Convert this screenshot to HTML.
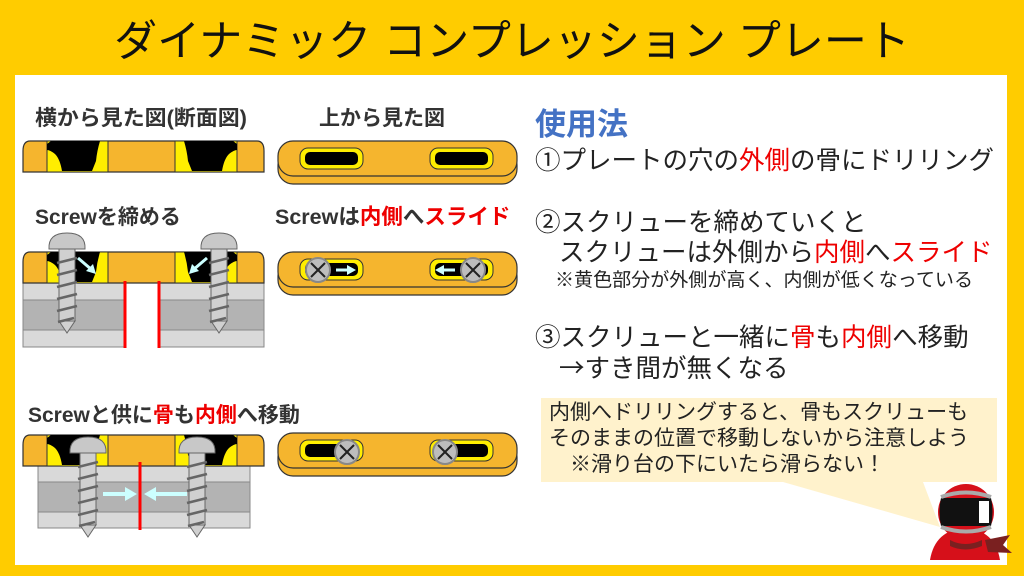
<!DOCTYPE html>
<html><head><meta charset="utf-8"><style>
html,body{margin:0;padding:0;width:1024px;height:576px;overflow:hidden;background:#FFCC00}
svg{display:block}
text{font-family:"Liberation Sans","Noto Sans CJK JP",sans-serif}
.cjk{font-family:"Noto Sans CJK JP",sans-serif}
</style></head><body>
<svg width="1024" height="576" viewBox="0 0 1024 576" xmlns="http://www.w3.org/2000/svg">
<defs>
<g id="screw">
  <rect x="-8" y="16" width="16" height="72" fill="#d0d0d0" stroke="#666" stroke-width="1"/>
  <polygon points="-8,88 8,88 0,100" fill="#d0d0d0" stroke="#666" stroke-width="1"/>
  <g stroke="#666" stroke-width="2.5">
    <line x1="-10" y1="30" x2="10" y2="25"/><line x1="-10" y1="42" x2="10" y2="37"/>
    <line x1="-10" y1="54" x2="10" y2="49"/><line x1="-10" y1="66" x2="10" y2="61"/>
    <line x1="-10" y1="78" x2="10" y2="73"/><line x1="-9" y1="89" x2="7" y2="85"/>
  </g>
  <path d="M-18,16 Q-19,0 0,0 Q19,0 18,16 Z" fill="#c8c8c8" stroke="#666" stroke-width="1"/>
</g>
<g id="head">
  <circle r="12" fill="#bdbdbd" stroke="#888" stroke-width="2"/>
  <line x1="-7" y1="-7" x2="7" y2="7" stroke="#222" stroke-width="2"/>
  <line x1="7" y1="-7" x2="-7" y2="7" stroke="#222" stroke-width="2"/>
</g>
<g id="topplate">
  <rect x="278" y="9" width="239" height="34" rx="15" fill="#F5B52E" stroke="#333" stroke-width="1.2"/>
  <rect x="278" y="0" width="239" height="35" rx="15" fill="#F5B52E" stroke="#333" stroke-width="1.2"/>
  <rect x="300" y="7" width="63" height="21" rx="8" fill="#FFEE00" stroke="#333"/>
  <rect x="305" y="11" width="53" height="13" rx="5" fill="#000"/>
  <rect x="430" y="7" width="63" height="21" rx="8" fill="#FFEE00" stroke="#333"/>
  <rect x="435" y="11" width="53" height="13" rx="5" fill="#000"/>
</g>
<g id="sideplate">
  <path d="M30,0 L257,0 Q264,0 264,10 L264,31 L23,31 L23,10 Q23,0 30,0 Z" fill="#F5B52E" stroke="#333" stroke-width="1.2"/>
  <rect x="47" y="0" width="61" height="31" fill="#FFEE00" stroke="#333"/>
  <rect x="175" y="0" width="62" height="31" fill="#FFEE00" stroke="#333"/>
  <path d="M51,0 L100,0 Q97,10 96,20 L92,30 L62,30 Q60,18 55,13 Q50,9 47,9 L47,3 Z" fill="#000"/>
  <path d="M233,0 L184,0 Q187,10 188,20 L192,30 L222,30 Q224,18 229,13 Q234,9 237,9 L237,3 Z" fill="#000"/>
</g>
</defs>

<rect x="15" y="75" width="992" height="490" fill="#fff"/>
<text x="512" y="56" font-size="43" text-anchor="middle" fill="#111">ダイナミック コンプレッション プレート</text>

<!-- row 1 -->
<text x="35" y="125" font-size="21" font-weight="bold" fill="#333" textLength="212" lengthAdjust="spacingAndGlyphs">横から見た図(断面図)</text>
<text x="319" y="125" font-size="21" font-weight="bold" fill="#333">上から見た図</text>
<use href="#sideplate" y="141"/>
<use href="#topplate" y="141"/>

<!-- row 2 -->
<text x="35" y="224" font-size="21" font-weight="bold" fill="#333">Screwを締める</text>
<text x="275" y="224" font-size="21.5" font-weight="bold" fill="#333">Screwは<tspan fill="#e00">内側</tspan>へ<tspan fill="#e00">スライド</tspan></text>
<g stroke="#888" stroke-width="1">
<rect x="23" y="283" width="102" height="17" fill="#d9d9d9"/><rect x="23" y="300" width="102" height="30" fill="#b3b3b3"/><rect x="23" y="330" width="102" height="17" fill="#d9d9d9"/>
<rect x="160" y="283" width="104" height="17" fill="#d9d9d9"/><rect x="160" y="300" width="104" height="30" fill="#b3b3b3"/><rect x="160" y="330" width="104" height="17" fill="#d9d9d9"/>
</g>
<use href="#sideplate" y="252"/>
<line x1="125" y1="281" x2="125" y2="348" stroke="#f00" stroke-width="3"/>
<line x1="159" y1="281" x2="159" y2="348" stroke="#f00" stroke-width="3"/>
<use href="#screw" x="67" y="233"/>
<use href="#screw" x="219" y="233"/>
<path d="M78,258 L92,270" stroke="#CCFFFF" stroke-width="3"/><polygon points="96,274 86,271 93,264" fill="#CCFFFF"/>
<path d="M207,258 L193,270" stroke="#CCFFFF" stroke-width="3"/><polygon points="189,274 199,271 192,264" fill="#CCFFFF"/>
<use href="#topplate" y="252"/>
<use href="#head" x="318" y="270"/>
<use href="#head" x="473" y="270"/>
<path d="M336,270 L348,270" stroke="#CCFFFF" stroke-width="3"/><polygon points="356,270 347,265 347,275" fill="#CCFFFF"/>
<path d="M455,270 L443,270" stroke="#CCFFFF" stroke-width="3"/><polygon points="435,270 444,265 444,275" fill="#CCFFFF"/>

<!-- row 3 -->
<text x="28" y="422" font-size="21" font-weight="bold" fill="#333">Screwと供に<tspan fill="#e00">骨</tspan>も<tspan fill="#e00">内側</tspan>へ移動</text>
<g stroke="#888" stroke-width="1">
<rect x="38" y="465" width="212" height="17" fill="#d9d9d9"/><rect x="38" y="482" width="212" height="30" fill="#b3b3b3"/><rect x="38" y="512" width="212" height="16" fill="#d9d9d9"/>
</g>
<use href="#sideplate" y="435"/>
<line x1="140" y1="462" x2="140" y2="530" stroke="#f00" stroke-width="3"/>
<use href="#screw" x="88" y="437"/>
<use href="#screw" x="197" y="437"/>
<path d="M103,494 L126,494" stroke="#CCFFFF" stroke-width="4"/><polygon points="137,494 125,487 125,501" fill="#CCFFFF"/>
<path d="M187,494 L155,494" stroke="#CCFFFF" stroke-width="4"/><polygon points="144,494 156,487 156,501" fill="#CCFFFF"/>
<use href="#topplate" y="433"/>
<use href="#head" x="347" y="452"/>
<use href="#head" x="445" y="452"/>

<!-- right text -->
<text x="535" y="135" font-size="31" font-weight="bold" fill="#4472C4">使用法</text>
<g font-size="25.5" fill="#222">
<text x="535" y="169">①プレートの穴の<tspan fill="#e00">外側</tspan>の骨にドリリング</text>
<text x="535" y="231">②スクリューを締めていくと</text>
<text x="559" y="261">スクリューは外側から<tspan fill="#e00">内側</tspan>へ<tspan fill="#e00">スライド</tspan></text>
<text x="535" y="346">③スクリューと一緒に<tspan fill="#e00">骨</tspan>も<tspan fill="#e00">内側</tspan>へ移動</text>
<text x="559" y="377"><tspan class="cjk">→</tspan>すき間が無くなる</text>
</g>
<text x="555" y="286" font-size="18.8" fill="#222" textLength="418" lengthAdjust="spacingAndGlyphs">※黄色部分が外側が高く、内側が低くなっている</text>

<!-- callout -->
<polygon points="541,398 997,398 997,482 923,482 940,527 783,482 541,482" fill="#FFF2CC"/>
<g font-size="21" fill="#222">
<text x="549" y="419">内側へドリリングすると、骨もスクリューも</text>
<text x="549" y="445">そのままの位置で移動しないから注意しよう</text>
<text x="570" y="471">※滑り台の下にいたら滑らない！</text>
</g>

<!-- character -->
<path d="M930,560 Q935,530 965,528 Q995,530 1000,560 Z" fill="#D6101A"/>
<path d="M985,540 L1010,535 L1003,545 L1012,553 L988,552 Z" fill="#7a2020"/>
<path d="M950,540 Q965,548 982,540 L982,546 Q965,553 950,546 Z" fill="#7a2020"/>
<circle cx="966" cy="512" r="28" fill="#D6101A"/>
<path d="M941,498 L991,498 Q994,512 991,526 L941,526 Q938,512 941,498 Z" fill="#111"/>
<path d="M941,497 Q966,488 991,497" stroke="#aaa" stroke-width="4" fill="none"/>
<path d="M941,527 Q966,536 991,527" stroke="#aaa" stroke-width="4" fill="none"/>
<rect x="979" y="501" width="10" height="22" fill="#fff"/>
</svg>
</body></html>
